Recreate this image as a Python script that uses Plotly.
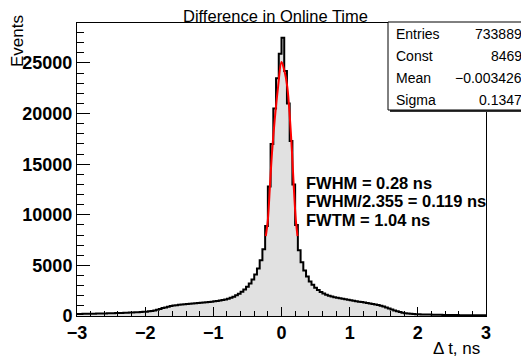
import numpy as np
import plotly.graph_objects as go

# ---- data ----
bin_lo = -3.0
bin_width = 0.04
counts = [
    200, 205, 210, 215, 220, 225, 232, 238, 245, 250,
    258, 265, 272, 280, 288, 296, 305, 315, 325, 335,
    347, 360, 375, 392, 410, 430, 460, 500, 550, 620,
    700, 780, 850, 920, 980, 1030, 1070, 1100, 1130, 1160,
    1185, 1210, 1235, 1260, 1285, 1310, 1335, 1360, 1390, 1420,
    1450, 1490, 1530, 1580, 1640, 1710, 1800, 1910, 2040, 2200,
    2400, 2620, 2880, 3200, 3600, 4100, 4700, 5500, 6600, 8900,
    12800, 17000, 20500, 23500, 25900,
    27500, 24200, 21000, 17300, 13000, 9000, 6500, 5300, 4500, 3900,
    3400, 3100, 2800, 2560, 2370, 2220, 2100, 2000, 1920, 1860,
    1800, 1750, 1700, 1650, 1600, 1555, 1510, 1465, 1420, 1375,
    1330, 1285, 1240, 1190, 1140, 1080, 1010, 930, 840, 740,
    640, 550, 460, 390, 330, 280, 240, 210, 190, 175,
    165, 157, 150, 143, 137, 131, 125, 120, 115, 110,
    105, 100, 96, 92, 88, 85, 82, 79, 76, 73,
    70, 68, 66, 64, 62,
]
fit_x = [-0.23, -0.20, -0.17, -0.14, -0.10, -0.05, 0.0, 0.04, 0.085, 0.125, 0.155, 0.18, 0.21, 0.235]
fit_y = [7900, 9500, 12800, 16070, 19360, 22650, 25100, 24300, 22650, 19360, 16070, 12780, 9490, 7900]

stats_labels = ["Entries", "Const", "Mean", "Sigma"]
stats_values = ["733889", "8469", "\u22120.003426", "0.1347"]
fit_texts = ["FWHM = 0.28 ns", "FWHM/2.355 = 0.119 ns", "FWTM = 1.04 ns"]

title_text = "Difference in Online Time"
x_title = "\u0394 t, ns"
y_title = "Events"

# ---- layout geometry (window pixels); the page body adds an 8px offset ----
OFF = 8
WIN_W, WIN_H = 529, 358
W, H = WIN_W - OFF, WIN_H - OFF
L, R, T, B = 77 - OFF, 486 - OFF, 23 - OFF, 316 - OFF


def px(xw):
    return (xw - OFF - L) / (R - L)


def py(yw):
    return (B - (yw - OFF)) / (B - T)


edges = bin_lo + bin_width * np.arange(len(counts) + 1)
step_y = list(counts) + [counts[-1]]

fig = go.Figure()
fig.add_trace(go.Scatter(
    x=edges, y=step_y, mode="lines", line_shape="hv",
    line=dict(color="black", width=2),
    fill="tozeroy", fillcolor="#e1e1e1", hoverinfo="skip", showlegend=False,
))
fig.add_trace(go.Scatter(
    x=fit_x, y=fit_y, mode="lines", line_shape="spline",
    line=dict(color="#ff0000", width=2), showlegend=False,
))

font_family = "Liberation Sans, Arial, sans-serif"

fig.update_layout(
    width=W, height=H,
    margin=dict(l=L, r=W - R, t=T, b=H - B, pad=0, autoexpand=False),
    paper_bgcolor="white", plot_bgcolor="white",
    font=dict(family=font_family, color="black"),
    showlegend=False,
    xaxis=dict(
        range=[-3, 3], dtick=1, tick0=0, showgrid=False, zeroline=False,
        showline=True, mirror=True, linecolor="black", linewidth=1,
        ticks="inside", ticklen=9, tickwidth=1, tickcolor="black",
        minor=dict(ticks="inside", ticklen=5, dtick=0.2, tickcolor="black", showgrid=False),
        tickfont=dict(family=font_family, size=18, weight="bold"),
        automargin=False,
    ),
    yaxis=dict(
        range=[0, 28950], dtick=5000, tick0=0, tickformat="d",
        showgrid=False, zeroline=False,
        showline=True, mirror=True, linecolor="black", linewidth=1,
        ticks="inside", ticklen=13, tickwidth=1, tickcolor="black",
        minor=dict(ticks="inside", ticklen=7, dtick=1000, tickcolor="black", showgrid=False),
        tickfont=dict(family=font_family, size=18, weight="bold"),
        automargin=False,
    ),
)

# stats box with shadow
bx0, bx1, by0, by1 = 388, 527, 22, 110
fig.add_shape(type="rect", xref="paper", yref="paper",
              x0=px(bx0 + 2), x1=px(bx1 + 2), y0=py(by1 + 2), y1=py(by0 + 2),
              fillcolor="#333333", line=dict(width=0), layer="above")
fig.add_shape(type="rect", xref="paper", yref="paper",
              x0=px(bx0), x1=px(bx1), y0=py(by1), y1=py(by0),
              fillcolor="white", line=dict(color="black", width=1), layer="above")
row_y = [34, 56, 78, 100]
for lab, val, yy in zip(stats_labels, stats_values, row_y):
    fig.add_annotation(text=lab, xref="paper", yref="paper", x=px(394), y=py(yy),
                       xanchor="left", yanchor="middle", showarrow=False,
                       font=dict(size=14, family=font_family))
    fig.add_annotation(text=val, xref="paper", yref="paper", x=px(524), y=py(yy),
                       xanchor="right", yanchor="middle", showarrow=False,
                       font=dict(size=14, family=font_family))

# title
fig.add_annotation(text=title_text, xref="paper", yref="paper", x=px(275), y=py(16),
                   xanchor="center", yanchor="middle", showarrow=False,
                   font=dict(size=16.5, family=font_family))
# axis titles
fig.add_annotation(text=y_title, xref="paper", yref="paper", x=px(17), y=py(41),
                   xanchor="center", yanchor="middle", textangle=-90, showarrow=False,
                   font=dict(size=17, family=font_family))
fig.add_annotation(text=x_title, xref="paper", yref="paper", x=px(482), y=py(349),
                   xanchor="right", yanchor="middle", showarrow=False,
                   font=dict(size=17, family=font_family))

# fit result text
for t, yy in zip(fit_texts, [183, 201, 220]):
    fig.add_annotation(text="<b>" + t + "</b>", xref="paper", yref="paper", x=px(304), y=py(yy),
                       xanchor="left", yanchor="middle", showarrow=False,
                       font=dict(size=16.5, family=font_family))

fig.write_html("out.html")
